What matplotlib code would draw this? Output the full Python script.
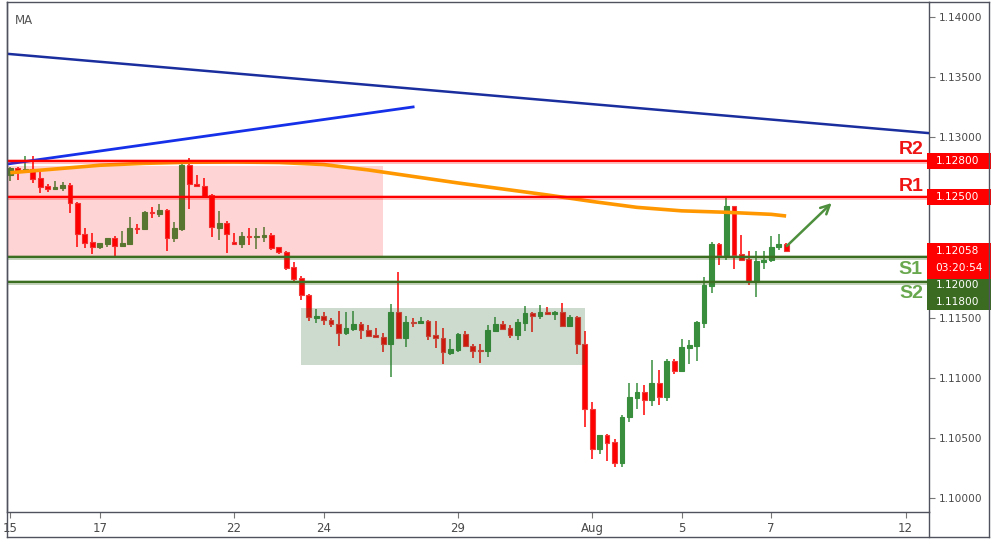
import matplotlib
matplotlib.use("Agg")
import matplotlib.pyplot as plt
import matplotlib.transforms as mtransforms
from matplotlib.patches import Rectangle
from matplotlib.lines import Line2D

# ---------------- data (4h candles, EURUSD-like) ----------------
opens = [1.12689, 1.12744, 1.12722, 1.12736, 1.12659, 1.12597, 1.12570, 1.12580, 1.12603, 1.12456,
         1.12195, 1.12129, 1.12090, 1.12115, 1.12162, 1.12098, 1.12115, 1.12245, 1.12240, 1.12381,
         1.12359, 1.12393, 1.12165, 1.12240, 1.12767, 1.12611, 1.12595, 1.12522, 1.12248, 1.12287,
         1.12129, 1.12115, 1.12179, 1.12170, 1.12170, 1.12185, 1.12087, 1.12043, 1.11921, 1.11830,
         1.11688, 1.11499, 1.11511, 1.11480, 1.11445, 1.11372, 1.11408, 1.11445, 1.11395, 1.11355,
         1.11339, 1.11283, 1.11544, 1.11328, 1.11464, 1.11455, 1.11469, 1.11353, 1.11328, 1.11208,
         1.11233, 1.11361, 1.11262, 1.11231, 1.11225, 1.11391, 1.11445, 1.11414, 1.11358, 1.11458,
         1.11536, 1.11516, 1.11547, 1.11528, 1.11547, 1.11433, 1.11503, 1.11278, 1.10738, 1.10405,
         1.10524, 1.10463, 1.10289, 1.10671, 1.10834, 1.10879, 1.10812, 1.10956, 1.10842, 1.11139,
         1.11054, 1.11250, 1.11267, 1.11458, 1.11765, 1.12112, 1.12023, 1.12428, 1.12027, 1.11990,
         1.11799, 1.11965, 1.11979, 1.12085, 1.12110]
highs = [1.12755, 1.12755, 1.12847, 1.12847, 1.12717, 1.12609, 1.12634, 1.12628, 1.12617, 1.12464,
         1.12243, 1.12201, 1.12123, 1.12162, 1.12176, 1.12220, 1.12337, 1.12276, 1.12387, 1.12417,
         1.12442, 1.12401, 1.12295, 1.12811, 1.12827, 1.12686, 1.12661, 1.12528, 1.12387, 1.12301,
         1.12204, 1.12215, 1.12245, 1.12245, 1.12254, 1.12204, 1.12087, 1.12052, 1.11963, 1.11846,
         1.11699, 1.11572, 1.11544, 1.11494, 1.11555, 1.11547, 1.11555, 1.11461, 1.11439, 1.11414,
         1.11372, 1.11613, 1.11879, 1.11514, 1.11499, 1.11505, 1.11480, 1.11472, 1.11411, 1.11322,
         1.11375, 1.11389, 1.11281, 1.11281, 1.11439, 1.11505, 1.11472, 1.11439, 1.11489, 1.11597,
         1.11549, 1.11605, 1.11586, 1.11555, 1.11622, 1.11522, 1.11514, 1.11389, 1.10798, 1.10524,
         1.10532, 1.10488, 1.10690, 1.10956, 1.10956, 1.10940, 1.11148, 1.11064, 1.11156, 1.11156,
         1.11322, 1.11314, 1.11472, 1.11835, 1.12129, 1.12123, 1.12501, 1.12428, 1.12187, 1.12054,
         1.12054, 1.12057, 1.12179, 1.12195, 1.12118]
lows = [1.12639, 1.12645, 1.12700, 1.12622, 1.12539, 1.12545, 1.12568, 1.12551, 1.12368, 1.12090,
        1.12081, 1.12027, 1.12071, 1.12085, 1.12002, 1.12096, 1.12113, 1.12198, 1.12238, 1.12331,
        1.12339, 1.12057, 1.12131, 1.12223, 1.12403, 1.12592, 1.12501, 1.12168, 1.12146, 1.12040,
        1.12104, 1.12081, 1.12104, 1.12071, 1.12126, 1.12065, 1.12032, 1.11896, 1.11807, 1.11647,
        1.11474, 1.11458, 1.11439, 1.11425, 1.11267, 1.11358, 1.11391, 1.11322, 1.11341, 1.11336,
        1.11217, 1.11009, 1.11325, 1.11258, 1.11425, 1.11447, 1.11316, 1.11250, 1.11117, 1.11189,
        1.11212, 1.11252, 1.11167, 1.11125, 1.11175, 1.11391, 1.11397, 1.11333, 1.11316, 1.11391,
        1.11383, 1.11489, 1.11528, 1.11483, 1.11433, 1.11433, 1.11198, 1.10593, 1.10328, 1.10368,
        1.10310, 1.10260, 1.10260, 1.10635, 1.10738, 1.10690, 1.10768, 1.10776, 1.10809, 1.11034,
        1.11045, 1.11117, 1.11142, 1.11416, 1.11702, 1.11940, 1.11982, 1.11907, 1.11973, 1.11774,
        1.11674, 1.11907, 1.11965, 1.12060, 1.12055]
closes = [1.12747, 1.12722, 1.12736, 1.12655, 1.12589, 1.12572, 1.12586, 1.12605, 1.12451, 1.12193,
          1.12123, 1.12090, 1.12118, 1.12162, 1.12098, 1.12121, 1.12245, 1.12237, 1.12378, 1.12368,
          1.12395, 1.12165, 1.12245, 1.12772, 1.12609, 1.12592, 1.12514, 1.12251, 1.12287, 1.12198,
          1.12115, 1.12179, 1.12170, 1.12179, 1.12187, 1.12081, 1.12043, 1.11915, 1.11824, 1.11686,
          1.11503, 1.11514, 1.11478, 1.11445, 1.11375, 1.11414, 1.11445, 1.11395, 1.11350, 1.11336,
          1.11283, 1.11547, 1.11328, 1.11461, 1.11455, 1.11472, 1.11350, 1.11328, 1.11212, 1.11237,
          1.11361, 1.11262, 1.11225, 1.11225, 1.11395, 1.11447, 1.11408, 1.11358, 1.11461, 1.11538,
          1.11516, 1.11547, 1.11528, 1.11547, 1.11433, 1.11503, 1.11278, 1.10738, 1.10405, 1.10524,
          1.10460, 1.10289, 1.10674, 1.10837, 1.10879, 1.10812, 1.10956, 1.10842, 1.11139, 1.11054,
          1.11256, 1.11272, 1.11464, 1.11771, 1.12112, 1.12023, 1.12428, 1.12023, 1.11982, 1.11799,
          1.11973, 1.11982, 1.12085, 1.12112, 1.12058]

# moving average, sampled at candle indices
ma_idx = [0, 6, 12, 18, 24, 30, 36, 42, 48, 54, 60, 66, 72, 78, 84, 90, 96, 102, 104]
ma_val = [1.12705, 1.12736, 1.12767, 1.12783, 1.12792, 1.12794, 1.12790, 1.12773, 1.12728, 1.12674,
          1.12620, 1.12570, 1.12520, 1.12466, 1.12417, 1.12388, 1.12376, 1.12359, 1.12345]

# trend lines (candle index, price)
trend_a_x = [-0.44, 123.2]
trend_a_y = [1.13694, 1.13034]
trend_b_x = [-0.31, 54.0]
trend_b_y = [1.12778, 1.13252]

# support / resistance levels
res_levels = [1.1280, 1.1250]
res_names = ["R2", "R1"]
sup_levels = [1.1200, 1.1180]
sup_names = ["S1", "S2"]

# zones (candle index range, price range)
pink_zone = [-0.5, 50.0, 1.11996, 1.12763]
green_zone = [39.0, 77.0, 1.11104, 1.11578]

# projection arrow
arrow_from = (104.1, 1.12096)
arrow_to = (110.1, 1.12453)

# axes labels
day_ticks = [0, 12, 30, 42, 60, 78, 90, 102, 120]
day_labels = ["15", "17", "22", "24", "29", "Aug", "5", "7", "12"]
price_ticks = [1.10, 1.105, 1.11, 1.115, 1.12, 1.125, 1.13, 1.135, 1.14]
hidden_price_labels = [1.12, 1.125]   # covered by the coloured price boxes
last_price_text = "1.12058"
countdown_text = "03:20:54"

# ---------------- drawing ----------------
W, H = 991, 540
fig = plt.figure(figsize=(W / 100, H / 100), dpi=100)
L, R, T, B = 7, 929, 2, 512
ax = fig.add_axes([L / W, 1 - B / H, (R - L) / W, (B - T) / H])
ax.set_xlim(-0.44, 123.15)
ax.set_ylim(1.098836, 1.141247)

UP = "#388E3C"
DOWN = "#FF0000"
GRAY = "#50535E"

for i, (o, h, l, c) in enumerate(zip(opens, highs, lows, closes)):
    col = UP if c >= o else DOWN
    edge = UP if c >= o else "#F03A3A"
    ax.vlines(i, l, h, color=col, lw=1.1, zorder=2)
    bot = min(o, c)
    ht = max(abs(c - o), 0.000012)
    ax.bar(i, ht, bottom=bot, width=0.64, color=col, edgecolor=edge, lw=0.8, zorder=3)

# zones on top of candles (translucent)
ax.add_patch(Rectangle((pink_zone[0], pink_zone[2]), pink_zone[1] - pink_zone[0],
                       pink_zone[3] - pink_zone[2], facecolor="#FF0000", alpha=0.17,
                       edgecolor="none", zorder=4))
ax.add_patch(Rectangle((green_zone[0], green_zone[2]), green_zone[1] - green_zone[0],
                       green_zone[3] - green_zone[2], facecolor="#2E6B32", alpha=0.24,
                       edgecolor="none", zorder=4))

# MA line
ax.plot(ma_idx, ma_val, color="#FF9800", lw=2.6, zorder=5, solid_capstyle="butt")

# trend lines
ax.plot(trend_a_x, trend_a_y, color="#1B2E9E", lw=1.8, zorder=6)
ax.plot(trend_b_x, trend_b_y, color="#1530E8", lw=2.0, zorder=6)

# levels
for lv in res_levels:
    ax.axhline(lv, color="#FF0000", lw=3.6, alpha=0.25, zorder=6)
    ax.axhline(lv, color="#FF0000", lw=1.5, zorder=6)
for lv in sup_levels:
    ax.axhline(lv, color="#3C6E22", lw=3.6, alpha=0.3, zorder=6)
    ax.axhline(lv, color="#3C6E22", lw=1.5, zorder=6)

# level names
name_font = dict(family=["Liberation Sans", "DejaVu Sans"], fontsize=14, fontweight="bold")
ax.text(122.4, res_levels[0] + 0.00097, res_names[0], color="#F01515", ha="right", va="center", zorder=8, **name_font)
ax.text(122.4, res_levels[1] + 0.00092, res_names[1], color="#F01515", ha="right", va="center", zorder=8, **name_font)
ax.text(122.2, sup_levels[0] - 0.00102, sup_names[0], color="#6AA84F", ha="right", va="center", zorder=8, **name_font)
ax.text(122.4, sup_levels[1] - 0.00100, sup_names[1], color="#6AA84F", ha="right", va="center", zorder=8, **name_font)

# arrow
ax.annotate("", xy=arrow_to, xytext=arrow_from,
            arrowprops=dict(arrowstyle="->", color="#4E8F3E", lw=1.8, mutation_scale=16,
                            shrinkA=0, shrinkB=0), zorder=8)

# MA label
ax.text(8 / (R - L), 1 - 18 / (B - T), "MA", transform=ax.transAxes, fontsize=8.5,
        color="#555555", va="center", ha="left")

# axes styling
for s in ax.spines.values():
    s.set_color(GRAY)
    s.set_linewidth(1.0)
ax.yaxis.tick_right()
ax.set_yticks(price_ticks)
ax.set_yticklabels(["" if any(abs(p - q) < 1e-9 for q in hidden_price_labels) else f"{p:.5f}"
                    for p in price_ticks])
ax.tick_params(axis="y", direction="out", length=4, width=0.8, color="#777777",
               labelsize=7.6, labelcolor="#4A4A4A", pad=3)
ax.set_xticks(day_ticks)
ax.set_xticklabels(day_labels)
for t in ax.get_xticklabels():
    t.set_family(["Liberation Sans Narrow", "DejaVu Sans"])
ax.tick_params(axis="x", direction="out", length=4, width=0.8, color="#777777",
               labelsize=8.5, labelcolor="#4A4A4A", pad=3)

# price label boxes (display pixel coords)
fig.canvas.draw()
ident = mtransforms.IdentityTransform()


def ypx(p):
    return ax.transData.transform((0, p))[1]


box_x0, box_w = 927, 70
txt_x = 936
lbl_font = dict(fontsize=7.6, color="white", va="center", ha="left", transform=ident, zorder=11)

for lv, txt in zip(res_levels, ["1.12800", "1.12500"]):
    c = ypx(lv)
    fig.add_artist(Rectangle((box_x0, c - 8), box_w, 16, transform=ident, facecolor="#FF0000",
                             edgecolor="none", zorder=10))
    fig.text(txt_x, c, txt, **lbl_font)

c = ypx(closes[-1])
fig.add_artist(Rectangle((box_x0, c - 28.8), box_w, 36.6, transform=ident, facecolor="#FF0000",
                         edgecolor="none", zorder=10))
fig.text(txt_x, c, last_price_text, **lbl_font)
fig.text(txt_x - 1, c - 17.2, countdown_text, **lbl_font)
fig.add_artist(Rectangle((box_x0, c - 59.5), box_w, 30.7, transform=ident, facecolor="#3B6B21",
                         edgecolor="none", zorder=10))
fig.text(txt_x, c - 34.5, f"{sup_levels[0]:.5f}", **lbl_font)
fig.text(txt_x, c - 51.2, f"{sup_levels[1]:.5f}", **lbl_font)

# outer frame and time-axis panel border (top edge shared with the plot spine)
fr_top = 1 - T / H
fr_bot = 3 / H
fig.add_artist(Line2D([L / W, L / W], [fr_bot, fr_top], transform=fig.transFigure, color=GRAY, lw=1.0, zorder=12))
fig.add_artist(Line2D([L / W, 989 / W], [fr_bot, fr_bot], transform=fig.transFigure, color=GRAY, lw=1.0, zorder=12))
fig.add_artist(Line2D([R / W, 989 / W], [fr_top, fr_top], transform=fig.transFigure, color=GRAY, lw=1.0, zorder=12))
fig.add_artist(Line2D([989 / W, 989 / W], [fr_bot, fr_top], transform=fig.transFigure, color=GRAY, lw=1.0, zorder=12))
fig.add_artist(Line2D([R / W, R / W], [fr_bot, 1 - B / H], transform=fig.transFigure,
                      color=GRAY, lw=1.0, zorder=12))

fig.savefig("out.png", dpi=100, facecolor="white")
